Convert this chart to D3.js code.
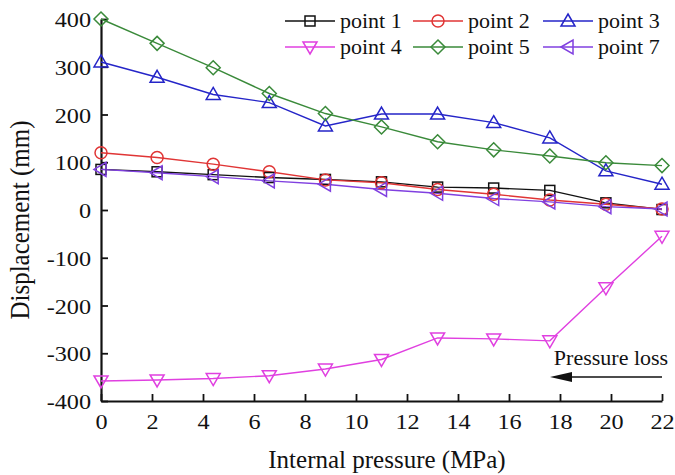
<!DOCTYPE html>
<html lang="en">
<head>
<meta charset="UTF-8" />
<title>Displacement vs internal pressure</title>
<style>
  html, body { margin: 0; padding: 0; background: #fff; }
  svg text { font-family: "Liberation Serif", "DejaVu Serif", serif; fill: #111; }
</style>
</head>
<body>
<div id="chart"></div>
<script src="https://d3js.org/d3.v7.min.js"></script>
<script>
  // pressure values (MPa)
  const pressure = [0, 2.2, 4.4, 6.6, 8.8, 11, 13.2, 15.4, 17.6, 19.8, 22];

  const point1 = [85, 80, 74, 68, 64, 59, 48, 46, 41, 15, 1];
  const point2 = [120, 110, 96, 80, 63, 57, 43, 33, 21, 12, 2];
  const point3 = [310, 278, 242, 225, 176, 201, 201, 183, 151, 82, 54];
  const point4 = [-358, -356, -353, -347, -333, -313, -268, -270, -274, -163, -55];
  const point5 = [400, 349, 298, 244, 202, 174, 143, 126, 113, 99, 93];
  const point7 = [85, 78, 70, 61, 54, 43, 35, 24, 17, 7, 2];

  const xTicks = [0, 2, 4, 6, 8, 10, 12, 14, 16, 18, 20, 22];
  const yTicks = [-400, -300, -200, -100, 0, 100, 200, 300, 400];

  const series = [
    {name: 'point 1', values: point1, color: '#111111', shape: 'square'},
    {name: 'point 2', values: point2, color: '#e03535', shape: 'circle'},
    {name: 'point 3', values: point3, color: '#2525c8', shape: 'up'},
    {name: 'point 4', values: point4, color: '#e040e0', shape: 'down'},
    {name: 'point 5', values: point5, color: '#3a8a3a', shape: 'diamond'},
    {name: 'point 7', values: point7, color: '#8040e0', shape: 'left'}
  ];

  const W = 675, H = 475;
  const margin = {top: 19, right: 13, bottom: 74, left: 101};
  const width = W - margin.left - margin.right;
  const height = H - margin.top - margin.bottom;
  const SX = 1.1; // tick digits are a bit wider in the source

  const svg = d3.select('#chart').append('svg').attr('width', W).attr('height', H);
  const g = svg.append('g').attr('transform', `translate(${margin.left},${margin.top})`);

  const x = d3.scaleLinear().domain([0, 22]).range([0, width]);
  const y = d3.scaleLinear().domain([-400, 400]).range([height, 0]);

  function stretch(sel) {
    sel.each(function() {
      const t = d3.select(this);
      const tx = +t.attr('x') || 0, ty = +t.attr('y') || 0;
      t.attr('transform', `translate(${tx},${ty}) scale(${SX},1) translate(${-tx},${-ty})`);
    });
  }

  // axes
  const xAxis = g.append('g').attr('transform', `translate(0,${height})`)
    .call(d3.axisBottom(x).tickValues(xTicks).tickFormat(d => String(d))
      .tickSize(-7).tickSizeOuter(0).tickPadding(12));
  xAxis.selectAll('text').attr('font-size', 22).attr('fill', '#111').call(stretch);
  const yAxis = g.append('g')
    .call(d3.axisLeft(y).tickValues(yTicks).tickFormat(d => String(d))
      .tickSize(-7).tickSizeOuter(0).tickPadding(10));
  yAxis.selectAll('text').attr('font-size', 22).attr('fill', '#111').attr('dy', '0.35em').call(stretch);
  [xAxis, yAxis].forEach(a => {
    a.select('.domain').attr('stroke', '#111').attr('stroke-width', 2.2);
    a.selectAll('.tick line').attr('stroke', '#111').attr('stroke-width', 1.8);
  });

  // axis titles
  svg.append('text').attr('x', 387).attr('y', 468).attr('text-anchor', 'middle')
    .attr('font-size', 25).text('Internal pressure (MPa)');
  svg.append('text').attr('transform', 'translate(29,220) rotate(-90) scale(1,1.1)')
    .attr('text-anchor', 'middle').attr('font-size', 25).text('Displacement (mm)');

  // marker shapes
  function marker(sel, shape, color) {
    if (shape === 'circle') {
      sel.append('circle').attr('r', 6);
    } else if (shape === 'square') {
      sel.append('rect').attr('x', -5).attr('y', -5).attr('width', 10).attr('height', 10);
    } else {
      const pts = {
        up: [[0, -7], [7, 5], [-7, 5]],
        down: [[0, 7], [7, -5], [-7, -5]],
        left: [[-7, 0], [5, -7], [5, 7]],
        diamond: [[0, -7], [7, 0], [0, 7], [-7, 0]]
      }[shape];
      sel.append('polygon').attr('points', pts.map(p => p.join(',')).join(' '));
    }
    sel.selectAll('*').attr('fill', 'none').attr('stroke', color).attr('stroke-width', 1.5);
  }

  const line = d3.line().x((d, i) => x(pressure[i])).y(d => y(d));
  series.forEach(s => {
    g.append('path').datum(s.values).attr('d', line)
      .attr('fill', 'none').attr('stroke', s.color).attr('stroke-width', 1.4);
  });
  series.forEach(s => {
    g.selectAll(null).data(s.values).enter().append('g')
      .attr('transform', (d, i) => `translate(${x(pressure[i])},${y(d)})`)
      .each(function() { marker(d3.select(this), s.shape, s.color); });
  });

  // legend: 3 columns, 2 rows
  const legX = [285, 413, 543], legY = [21, 47];
  series.forEach((s, i) => {
    const lx = legX[i % 3], ly = legY[Math.floor(i / 3)];
    const lg = svg.append('g');
    lg.append('line').attr('x1', lx).attr('x2', lx + 50).attr('y1', ly).attr('y2', ly)
      .attr('stroke', s.color).attr('stroke-width', 1.4);
    const m = lg.append('g').attr('transform', `translate(${lx + 25},${ly})`);
    marker(m, s.shape, s.color);
    lg.append('text').attr('x', lx + 55).attr('y', ly + 7).attr('font-size', 22)
      .text(s.name);
  });

  // pressure loss annotation
  svg.append('line').attr('x1', 568).attr('x2', 662).attr('y1', 377).attr('y2', 377)
    .attr('stroke', '#111').attr('stroke-width', 1.4);
  svg.append('path').attr('d', 'M550,377 L572,372 L572,382 Z').attr('fill', '#111');
  svg.append('text').attr('x', 611).attr('y', 365).attr('text-anchor', 'middle')
    .attr('font-size', 22).text('Pressure loss');
</script>
</body>
</html>
